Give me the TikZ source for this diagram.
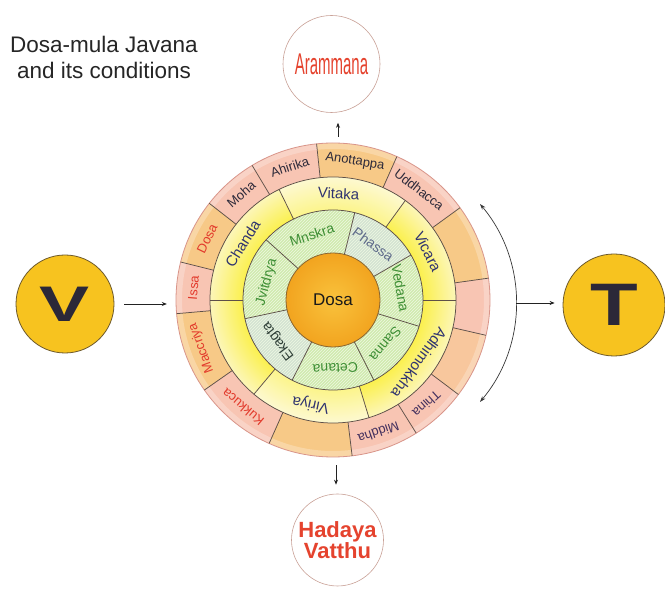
\documentclass[tikz,border=0pt]{standalone}
\usepackage{fontspec}
\setmainfont{Liberation Sans}
\usepackage{graphicx}
\usetikzlibrary{patterns,arrows.meta}
\definecolor{gold}{HTML}{F7C31F}
\definecolor{goldedge}{HTML}{6E5A2C}
\definecolor{lettc}{HTML}{2B2838}
\definecolor{ringpink}{HTML}{F8C5B3}
\definecolor{ringorange}{HTML}{F7C987}
\definecolor{ylw}{HTML}{FBF04E}
\definecolor{ylwlight}{HTML}{FCF6B8}
\definecolor{grn}{HTML}{D0EAAE}
\definecolor{grnblue}{HTML}{D3E3D2}
\definecolor{grnstripe}{HTML}{EEF8E2}
\definecolor{ctrin}{HTML}{F9C23C}
\definecolor{ctrout}{HTML}{F2A41F}
\definecolor{ctredge}{HTML}{8A6530}
\definecolor{sepc}{HTML}{5E5048}
\definecolor{rimc}{HTML}{D9958A}
\definecolor{navy}{HTML}{2F3370}
\definecolor{dk}{HTML}{2D2A3A}
\definecolor{purp}{HTML}{43305E}
\definecolor{lblred}{HTML}{E2392B}
\definecolor{lg}{HTML}{3F8F36}
\definecolor{gbl}{HTML}{5E6A8A}
\definecolor{gdk}{HTML}{2E3E36}
\definecolor{pinkedge}{HTML}{C9A197}
\definecolor{arrc}{HTML}{222222}
\definecolor{redtxt}{HTML}{E5432E}
\pgfdeclareradialshading{ylwshade}{\pgfpointorigin}{color(0bp)=(ylw); color(18.3bp)=(ylw); color(25bp)=(ylwlight); color(50bp)=(ylwlight)}
\pgfdeclareradialshading{ctrshade}{\pgfpointorigin}{color(0bp)=(ctrin); color(25bp)=(ctrout); color(50bp)=(ctrout)}
\begin{document}
\begin{tikzpicture}[x=1pt,y=1pt,
  sep/.style={draw=sepc, line width=.75pt},
  olbl/.style={inner sep=0, font=\fontsize{13}{13}\selectfont},
  ylbl/.style={inner sep=0, font=\fontsize{15}{15}\selectfont, text=navy},
  glbl/.style={inner sep=0, font=\fontsize{14}{14}\selectfont},
  bigcirc/.style={circle, fill=gold, draw=goldedge, line width=.8pt, inner sep=0, text=lettc},
  smallcirc/.style={circle, draw=pinkedge, line width=.6pt, fill=white, inner sep=0},
  arr/.style={draw=arrc, line width=.7pt, -{Stealth[length=5pt,width=4pt]}},
  dblarr/.style={draw=arrc!90, line width=.7pt, {Stealth[length=6pt,width=4pt]}-{Stealth[length=6pt,width=4pt]}}]
\useasboundingbox (0,0) rectangle (665,597);
\fill[white] (0,0) rectangle (665,597);

% title
\node[inner sep=0, anchor=north, align=center, text=black!85, font=\fontsize{22.5}{26}\selectfont] (title) at (104,561) {Dosa-mula Javana\\and its conditions};

% wheel
\node[circle, minimum size=314pt, inner sep=0] (wheel) at (333,297) {};
\begin{scope}[shift={(333,297)}]
  \foreach \a/\b/\c in {36/66/ringpink, 66/96/ringorange, 96/121/ringpink, 121/142/ringpink,
      142/166/ringorange, 166/185/ringpink, 185/215/ringorange, 215/246/ringpink,
      246/277/ringorange, 277/302/ringpink, 302/323/ringpink, 323/347/ringorange!50!ringpink,
      347/368/ringpink, 368/396/ringorange}
    \fill[\c] (0,0) -- (\a:157) arc[start angle=\a, end angle=\b, radius=157] -- cycle;
  \fill[white, opacity=.25, even odd rule] (0,0) circle[radius=157] (0,0) circle[radius=151];
  \shade[shading=ylwshade] (0,0) circle[radius=123];
  \foreach \a/\b in {54/116, 230/287}
    \fill[white, opacity=.35] (0,0) -- (\a:123) arc[start angle=\a, end angle=\b, radius=123] -- cycle;
  \fill[grn] (0,0) circle[radius=90];
  \foreach \a/\b in {30/76, 192/243}
    \fill[grnblue] (0,0) -- (\a:90) arc[start angle=\a, end angle=\b, radius=90] -- cycle;
  \fill[pattern=north east lines, pattern color=grnstripe] (0,0) circle[radius=90];
  \shade[shading=ctrshade] (0,0) circle[radius=47];
  \draw[draw=ctredge, line width=.8pt] (0,0) circle[radius=47];
  % separators
  \draw[sep] (0,0) circle[radius=90];
  \draw[sep] (0,0) circle[radius=123];
  \draw[draw=rimc, line width=.8pt] (0,0) circle[radius=157];
  \foreach \a in {36,66,96,121,142,166,185,215,246,277,302,323,347,8}
    \draw[sep] (\a:123) -- (\a:157);
  \foreach \a in {0,54,116,180,230,287}
    \draw[sep] (\a:90) -- (\a:123);
  \foreach \a in {76,138,192,243,297,343,30}
    \draw[sep] (\a:47) -- (\a:90);
  % labels outer ring
  \foreach \a/\t/\c [count=\i] in {52/Uddhacca/dk, 81/Anottappa/dk, 108/Ahirika/dk, 131/Moha/dk,
      154/Dosa/lblred, 175/Issa/lblred, 200/Maccriya/lblred, 230/Kukkuca/lblred,
      289/Middha/purp, 312/Thina/purp}
    \node[olbl, text=\c, rotate=\a-90] (o\i) at (\a:140) {\t};
  % labels yellow ring
  \foreach \a/\t [count=\i] in {87/Vitaka, 27/Vicara, 324/Adhimokkha, 258/Viriya, 148/Chanda}
    \node[ylbl, rotate=\a-90] (y\i) at (\a:106.5) {\t};
  % labels green ring
  \foreach \a/\t/\c [count=\i] in {108/Mnskra/lg, 54/Phassa/gbl, 10/Vedana/lg, 320/Sanna/lg,
      272/Cetana/lg, 217/Ekagta/gdk, 165/Jvitdrya/lg}
    \node[glbl, text=\c, rotate=\a-90] (g\i) at (\a:68.5) {\t};
\end{scope}
\node[inner sep=0, font=\fontsize{17}{17}\selectfont, text=black!90] (ctr) at (333,297) {Dosa};

% side circles
\node[bigcirc, minimum size=98pt] (V) at (65,293) {\fontsize{50}{50}\selectfont\bfseries\scalebox{1.5}[1]{V}};
\node[bigcirc, minimum size=102pt] (T) at (614,292) {\fontsize{60}{60}\selectfont\bfseries\scalebox{1.3}[1]{T}};
\node[smallcirc, minimum size=97pt] (aram) at (331.5,533) {\fontsize{30}{30}\selectfont\scalebox{0.5}[1]{\textcolor{redtxt}{Arammana}}};
\node[smallcirc, minimum size=92pt, align=center, text=redtxt, font=\fontsize{22}{20}\selectfont\bfseries] (hadaya) at (337.5,57) {Hadaya\\Vatthu};

% connectors
\draw[arr, shorten <=10pt, shorten >=9pt] (V.east) -- (V.east -| wheel.west);
\coordinate (arctop) at (480,393);
\coordinate (arcmid) at (516,294);
\draw[dblarr] (arctop) arc[start angle=40, end angle=-40, radius=154];
\draw[arr, shorten >=8pt] (arcmid) -- (arcmid -| T.west);
\draw[arr, shorten <=6pt, shorten >=10pt] ([xshift=5pt]wheel.north) -- ([xshift=6.5pt]aram.south);
\draw[arr, shorten <=8pt, shorten >=9pt] ([xshift=3pt]wheel.south) -- ([xshift=-1.5pt]hadaya.north);
\end{tikzpicture}
\end{document}
